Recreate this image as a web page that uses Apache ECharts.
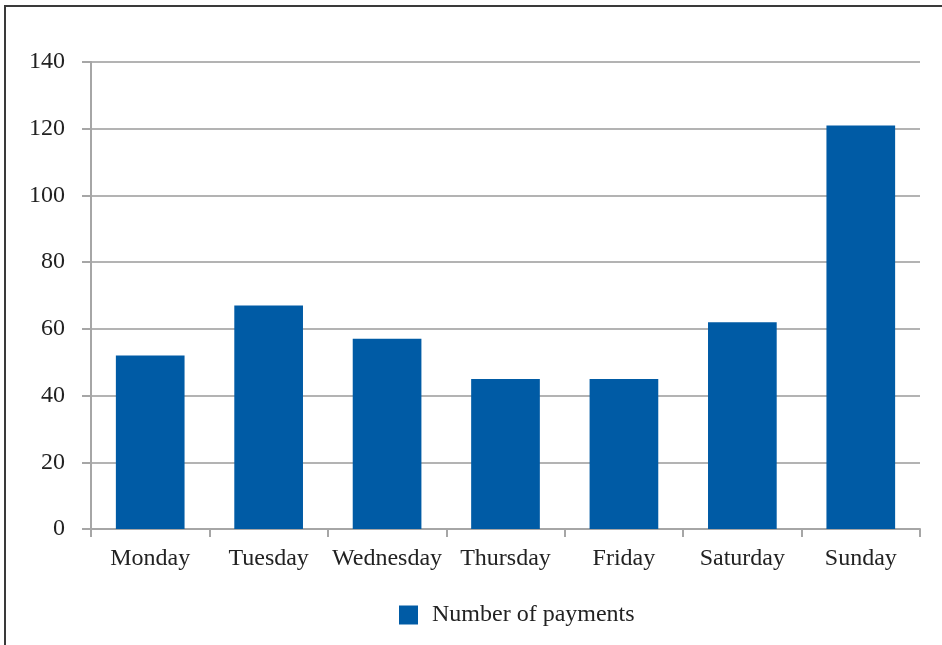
<!DOCTYPE html>
<html>
<head>
<meta charset="utf-8">
<script src="https://cdn.jsdelivr.net/npm/echarts@6/dist/echarts.min.js"></script>
<style>
    html, body { margin: 0; padding: 0; background: #fff; }
    #frame {
        position: absolute; left: 4px; top: 5px; width: 960px; height: 660px;
        border-left: 2px solid #3a3a3a; border-top: 2px solid #3a3a3a; box-sizing: border-box;
    }
    #chart { position: absolute; left: 0; top: 0; width: 942px; height: 645px; }
</style>
</head>
<body>
<div id="frame"></div>
<div id="chart"></div>
<script>
let days = ['Monday', 'Tuesday', 'Wednesday', 'Thursday', 'Friday', 'Saturday', 'Sunday'];
let payments = [52, 67, 57, 45, 45, 62, 121];
let seriesName = 'Number of payments';

let font = 'Liberation Serif, Times New Roman, serif';

let option = {
    animation: false,
    textStyle: {fontFamily: font},
    color: ['#005BA5'],
    grid: {
        left: 91,
        right: 22,
        top: 62,
        bottom: 116
    },
    legend: {
        top: 598,
        left: 394,
        itemWidth: 19,
        itemHeight: 19,
        itemGap: 12,
        icon: 'rect',
        textStyle: {fontSize: 24, color: '#222', fontFamily: font, padding: [0, 0, 0, 9]},
        data: [seriesName]
    },
    xAxis: {
        type: 'category',
        data: days,
        axisLine: {lineStyle: {color: '#a6a6a6', width: 2}},
        axisTick: {show: true, length: 8, lineStyle: {color: '#a6a6a6', width: 2}},
        axisLabel: {fontSize: 24, color: '#222', margin: 18, interval: 0, fontFamily: font}
    },
    yAxis: {
        type: 'value',
        min: 0,
        max: 140,
        interval: 20,
        axisLine: {show: true, lineStyle: {color: '#a6a6a6', width: 2}},
        axisTick: {show: true, length: 9, lineStyle: {color: '#a6a6a6', width: 2}},
        axisLabel: {fontSize: 24, color: '#222', margin: 26, fontFamily: font},
        splitLine: {lineStyle: {color: '#b3b3b3', width: 2}}
    },
    series: [
        {
            name: seriesName,
            type: 'bar',
            data: payments,
            barWidth: '58%'
        }
    ]
};
echarts.init(document.getElementById('chart')).setOption(option);
</script>
</body>
</html>
